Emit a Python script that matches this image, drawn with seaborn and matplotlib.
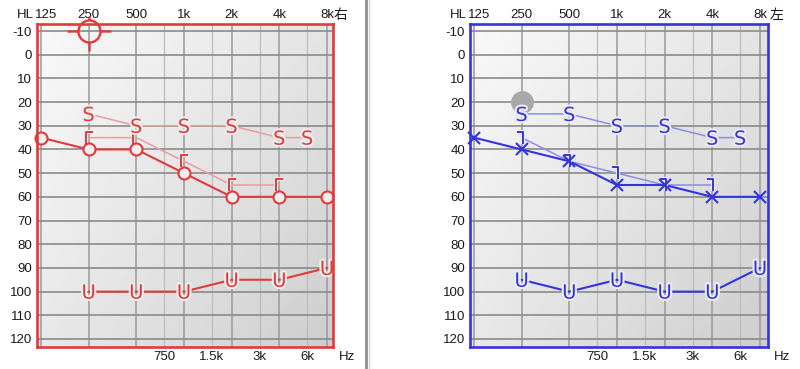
import numpy as np
import matplotlib
matplotlib.use("Agg")
import matplotlib.pyplot as plt
import seaborn as sns
from matplotlib.path import Path
from matplotlib.lines import Line2D
import matplotlib.patheffects as pe
from matplotlib.transforms import blended_transform_factory, offset_copy

sns.set_theme(style="white")
plt.rcParams["font.family"] = ["Liberation Sans", "Noto Sans CJK JP", "DejaVu Sans"]
plt.rcParams["mathtext.fontset"] = "dejavusans"

# ---------------- data ----------------
octave_freqs = [125, 250, 500, 1000, 2000, 4000, 8000]
octave_labels = ["125", "250", "500", "1k", "2k", "4k", "8k"]
half_freqs = [750, 1500, 3000, 6000]
half_labels = ["750", "1.5k", "3k", "6k"]
db_ticks = list(range(-10, 121, 10))

# right ear (右, red)
r_air_freq = [125, 250, 500, 1000, 2000, 4000, 8000]
r_air_db = [35, 40, 40, 50, 60, 60, 60]
r_bone_freq = [250, 500, 1000, 2000, 4000]
r_bone_db = [35, 35, 45, 55, 55]
r_s_freq = [250, 500, 1000, 2000, 4000, 6000]
r_s_db = [25, 30, 30, 30, 35, 35]
r_u_freq = [250, 500, 1000, 2000, 4000, 8000]
r_u_db = [100, 100, 100, 95, 95, 90]
r_mark_freq = [250]
r_mark_db = [-10]

# left ear (左, blue)
l_air_freq = [125, 250, 500, 1000, 2000, 4000, 8000]
l_air_db = [35, 40, 45, 55, 55, 60, 60]
l_bone_freq = [250, 500, 1000, 2000, 4000]
l_bone_db = [35, 45, 50, 55, 55]
l_s_freq = [250, 500, 1000, 2000, 4000, 6000]
l_s_db = [25, 25, 30, 30, 35, 35]
l_u_freq = [250, 500, 1000, 2000, 4000, 8000]
l_u_db = [95, 100, 95, 100, 100, 90]
l_dot_freq = [250]
l_dot_db = [20]

# ---------------- figure ----------------
W, H = 800, 369
fig = plt.figure(figsize=(W / 100, H / 100), dpi=100)
fig.patch.set_facecolor("white")

PX = 72 / 100  # points per pixel


def rect(x0, y0, x1, y1):
    return [x0 / W, 1 - y1 / H, (x1 - x0) / W, (y1 - y0) / H]


MO, LI = Path.MOVETO, Path.LINETO
bracket_l = Path([(4, 6), (-3, 6), (-3, -6)], [MO, LI, LI])
bracket_r = Path([(-5, 6), (1, 6), (1, -6)], [MO, LI, LI])
target = Path.make_compound_path(
    Path.circle((0, 0), 11),
    Path([(-22, 0), (-11, 0), (11, 0), (22, 0), (0, 11), (0, 15), (0, -11), (0, -20)],
         [MO, LI, MO, LI, MO, LI, MO, LI]),
)
BG = "#ececec"


def line(ax, f, d, color, lw, z):
    sns.lineplot(x=f, y=d, ax=ax, color=color, linewidth=lw, zorder=z,
                 sort=False, estimator=None, errorbar=None, clip_on=False)


def marks(ax, f, d, color, marker, ms, mew, mfc, z, halo=0):
    kw = {}
    if halo:
        kw["path_effects"] = [pe.withStroke(linewidth=halo, foreground=BG)]
    sns.lineplot(x=f, y=d, ax=ax, color=color, linestyle="none", marker=marker,
                 markersize=ms, markeredgewidth=mew, markeredgecolor=color,
                 markerfacecolor=mfc, zorder=z, sort=False, estimator=None,
                 errorbar=None, clip_on=False, **kw)


def panel(x0, x1, color, ear, hl_end, ear_x, hz_x, left_pad, right_pad):
    r = rect(x0, 24, x1, 347)
    bg = fig.add_axes(r, zorder=0)
    u = np.linspace(0, 1, 200)[None, :]
    v = np.linspace(0, 1, 200)[:, None]
    grad = 0.975 - 0.08 * u - 0.065 * v - 0.025 * u * v
    bg.imshow(grad, cmap="gray", vmin=0, vmax=1, extent=[0, 1, 0, 1],
              aspect="auto", interpolation="bilinear")
    bg.axis("off")

    ax = fig.add_axes(r, zorder=1)
    ax.set_facecolor("none")
    ax.set_xscale("log", base=2)
    octpx = 47.67
    ax.set_xlim(125 * 2 ** (-left_pad / octpx), 8000 * 2 ** (right_pad / octpx))
    ax.set_ylim(120 + 8 / 2.369, -10 - 7 / 2.369)
    ax.set_xticks(octave_freqs)
    ax.set_xticks(half_freqs, minor=True)
    ax.set_yticks(db_ticks)
    ax.set_yticklabels([str(t) for t in db_ticks], fontsize=9.5, color="#1a1a1a")
    ax.tick_params(axis="x", which="both", length=0, labelbottom=False, labeltop=False)
    ax.tick_params(axis="y", length=0, pad=5 * PX)
    ax.grid(True, which="major", axis="x", color="#999999", linewidth=1.1)
    ax.grid(True, which="minor", axis="x", color="#bcbcbc", linewidth=0.9)
    ax.grid(True, which="major", axis="y", color="#8a8a8a", linewidth=1.2)
    ax.set_axisbelow(True)
    for s in ax.spines.values():
        s.set_visible(True)
        s.set_color(color)
        s.set_linewidth(1.9)
        s.set_zorder(6)

    ttop = blended_transform_factory(ax.transData, fig.transFigure)
    for f, lab in zip(octave_freqs, octave_labels):
        tr = offset_copy(ttop, fig=fig, x=5 if f == 125 else 0, y=0, units="dots")
        ax.text(f, 1 - 15 / H, lab, transform=tr, ha="center", va="center",
                fontsize=9.5, color="#1a1a1a")
    for f, lab in zip(half_freqs, half_labels):
        ax.text(f, 1 - 357 / H, lab, transform=ttop, ha="center", va="center",
                fontsize=9.5, color="#1a1a1a")
    fig.text(hl_end / W, 1 - 15 / H, "HL", ha="right", va="center",
             fontsize=9.5, color="#1a1a1a")
    fig.text(ear_x / W, 1 - 15 / H, ear, ha="center", va="center",
             fontsize=10, color="#1a1a1a")
    fig.text(hz_x / W, 1 - 357 / H, "Hz", ha="center", va="center",
             fontsize=9.5, color="#1a1a1a")
    return ax


# ---------- right ear panel (red) ----------
RED, RED_L = "#e23a3a", "#f09a9a"
axR = panel(37, 333, RED, "右", 34, 341, 347, 4, 6)
line(axR, r_s_freq, r_s_db, RED_L, 1.1, 2)
line(axR, r_bone_freq, r_bone_db, RED_L, 1.1, 2)
line(axR, r_air_freq, r_air_db, RED, 1.5, 3)
line(axR, r_u_freq, r_u_db, RED, 1.5, 3)
marks(axR, r_s_freq, r_s_db, RED, r"$\mathrm{S}$", 10.5, 0, RED, 5, halo=3)
marks(axR, r_u_freq, r_u_db, RED, r"$\mathrm{U}$", 10.5, 0, RED, 5, halo=3)
marks(axR, r_bone_freq, r_bone_db, RED, bracket_l, 12 * PX, 1.4, "none", 4, halo=3)
marks(axR, r_air_freq, r_air_db, RED, "o", 12 * PX, 1.5, "#eeeeee", 5)
marks(axR, r_mark_freq, r_mark_db, RED, target, 44 * PX, 1.7, "none", 7)

# ---------- left ear panel (blue) ----------
BLUE, BLUE_L = "#3434de", "#8c8ceb"
axL = panel(470, 768, BLUE, "左", 467, 777, 782, 4, 8)
marks(axL, l_dot_freq, l_dot_db, "#a8a8a8", "o", 22 * PX, 0.5, "#a8a8a8", 2)
line(axL, l_s_freq, l_s_db, BLUE_L, 1.1, 2)
line(axL, l_bone_freq, l_bone_db, BLUE_L, 1.1, 2)
line(axL, l_air_freq, l_air_db, BLUE, 1.5, 3)
line(axL, l_u_freq, l_u_db, BLUE, 1.5, 3)
marks(axL, l_s_freq, l_s_db, BLUE, r"$\mathrm{S}$", 10.5, 0, BLUE, 5, halo=3)
marks(axL, l_u_freq, l_u_db, BLUE, r"$\mathrm{U}$", 10.5, 0, BLUE, 5, halo=3)
marks(axL, l_bone_freq, l_bone_db, BLUE, bracket_r, 12 * PX, 1.4, "none", 4, halo=3)
marks(axL, l_air_freq, l_air_db, BLUE, "x", 12 * PX, 1.5, BLUE, 5)

# separator between the two audiograms
fig.add_artist(Line2D([366 / W, 366 / W], [0, 1], transform=fig.transFigure,
                      color="#8f8f8f", linewidth=2.0))
fig.add_artist(Line2D([368.5 / W, 368.5 / W], [0, 1], transform=fig.transFigure,
                      color="#d0d0d0", linewidth=1.0))

fig.savefig("out.png", dpi=100)
